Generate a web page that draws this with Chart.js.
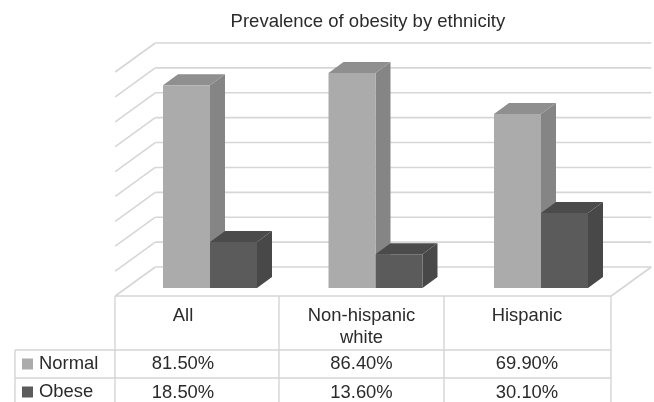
<!DOCTYPE html>
<html>
<head>
<meta charset="utf-8">
<style>html,body{margin:0;padding:0;background:#fff}canvas{display:block}</style>
<script src="https://cdn.jsdelivr.net/npm/chart.js@4/dist/chart.umd.min.js"></script>
</head>
<body>
<canvas id="c" width="654" height="402"></canvas>
<script>
const categories = ["All", ["Non-hispanic", "white"], "Hispanic"];
const normalValues = [81.5, 86.4, 69.9];
const obeseValues = [18.5, 13.6, 30.1];
const normalCells = ["81.50%", "86.40%", "69.90%"];
const obeseCells = ["18.50%", "13.60%", "30.10%"];
const titleText = "Prevalence of obesity by ethnicity";

const FONT = '"Liberation Sans", Arial, sans-serif';
const GRID = "#d6d6d6";
const TABLE = "#d4d4d4";
const INK = "#2b2b2b";

// Extrusion depth of the bars and of the floor/wall box, in pixels.
const BAR_DEPTH = { x: 15, y: -11 };
const WALL_DEPTH = { x: 40, y: -29 };
const FLOOR_INSET = { x: 12, y: 8 };

// Column rules and row rules of the data table under the plot.
const columnRules = [115, 279, 444, 611];
const rowRules = [350, 378];
const legendLeft = 15;
const labelShift = [-27, -14, -14];

const faceColors = [
  { top: "#8f8f8f", side: "#858585" },
  { top: "#4b4b4b", side: "#484848" }
];

function line(ctx, x1, y1, x2, y2) {
  ctx.beginPath();
  ctx.moveTo(x1, y1);
  ctx.lineTo(x2, y2);
  ctx.stroke();
}

function poly(ctx, pts, fill) {
  ctx.beginPath();
  pts.forEach((p, i) => (i ? ctx.lineTo(p[0], p[1]) : ctx.moveTo(p[0], p[1])));
  ctx.closePath();
  ctx.fillStyle = fill;
  ctx.fill();
}

const box3d = {
  id: "box3d",
  beforeDatasetsDraw(chart) {
    const { ctx, scales: { x, y } } = chart;
    const frontLeft = x.left - FLOOR_INSET.x;
    const frontRight = frontLeft + (columnRules[3] - columnRules[0]);
    const shiftY = FLOOR_INSET.y + WALL_DEPTH.y;
    ctx.save();
    ctx.strokeStyle = GRID;
    ctx.lineWidth = 1.6;
    // Horizontal rules on the back wall, with their run down the left wall.
    y.ticks.forEach(t => {
      const py = y.getPixelForValue(t.value) + shiftY;
      line(ctx, frontLeft + WALL_DEPTH.x, py, frontRight + WALL_DEPTH.x, py);
      line(ctx, frontLeft, py - WALL_DEPTH.y, frontLeft + WALL_DEPTH.x, py);
    });
    // Floor edge on the right-hand side.
    const floorBack = y.getPixelForValue(0) + shiftY;
    line(ctx, frontRight, floorBack - WALL_DEPTH.y, frontRight + WALL_DEPTH.x, floorBack);
    ctx.restore();

    // Side and top faces of every bar, Normal first so Obese sits in front.
    chart.data.datasets.forEach((ds, di) => {
      chart.getDatasetMeta(di).data.forEach(bar => {
        const l = bar.x - bar.width / 2, r = bar.x + bar.width / 2, t = bar.y, b = bar.base;
        const dx = BAR_DEPTH.x, dy = BAR_DEPTH.y;
        poly(ctx, [[r, t], [r + dx, t + dy], [r + dx, b + dy], [r, b]], faceColors[di].side);
        poly(ctx, [[l, t], [l + dx, t + dy], [r + dx, t + dy], [r, t]], faceColors[di].top);
      });
    });
  },
  afterDraw(chart) {
    const { ctx, scales: { x, y } } = chart;
    const floorFront = y.getPixelForValue(0) + FLOOR_INSET.y;
    const bottom = chart.height;
    ctx.save();
    ctx.strokeStyle = TABLE;
    ctx.lineWidth = 1.4;
    line(ctx, columnRules[0], floorFront, columnRules[3], floorFront);
    columnRules.forEach(cx => line(ctx, cx, floorFront, cx, bottom));
    line(ctx, legendLeft, rowRules[0], columnRules[3], rowRules[0]);
    line(ctx, legendLeft, rowRules[1], columnRules[3], rowRules[1]);
    line(ctx, legendLeft, rowRules[0], legendLeft, bottom);

    ctx.fillStyle = INK;
    ctx.font = "18.4px " + FONT;
    ctx.textAlign = "center";
    ctx.textBaseline = "middle";
    categories.forEach((label, i) => {
      const cx = x.getPixelForValue(i) + labelShift[i];
      const lines = Array.isArray(label) ? label : [label];
      lines.forEach((s, k) => ctx.fillText(s, cx, floorFront + 20 + k * 22));
      ctx.fillText(normalCells[i], cx, rowRules[0] + 14);
      ctx.fillText(obeseCells[i], cx, rowRules[1] + 15);
    });

    // Legend keys in the first column of the table.
    ctx.textAlign = "left";
    chart.data.datasets.forEach((ds, di) => {
      const top = rowRules[di];
      ctx.fillStyle = ds.backgroundColor;
      ctx.fillRect(legendLeft + 7, top + 8.5, 11, 11);
      ctx.fillStyle = INK;
      ctx.fillText(ds.label, legendLeft + 24, top + 13.5);
    });
    ctx.restore();
  }
};

new Chart(document.getElementById("c"), {
  type: "bar",
  data: {
    labels: categories,
    datasets: [
      { label: "Normal", data: normalValues, backgroundColor: "#ababab", borderWidth: 0 },
      { label: "Obese", data: obeseValues, backgroundColor: "#5b5b5b", borderWidth: 0 }
    ]
  },
  plugins: [box3d],
  options: {
    responsive: false,
    animation: false,
    events: [],
    layout: { padding: { left: 112, right: 30.25, top: 0, bottom: 0 } },
    datasets: { bar: { categoryPercentage: 0.568, barPercentage: 1 } },
    plugins: {
      legend: { display: false },
      tooltip: { enabled: false },
      title: {
        display: true,
        text: titleText,
        color: INK,
        font: { family: FONT, size: 18.5, weight: "normal" },
        padding: { top: 11, bottom: 30.8 }
      }
    },
    scales: {
      x: {
        grid: { display: false },
        border: { display: false },
        ticks: { display: false },
        afterFit(s) { s.height = 114; }
      },
      y: {
        min: 0,
        max: 90,
        ticks: { display: false, stepSize: 10 },
        grid: { display: false },
        border: { display: false },
        afterFit(s) { s.width = 15.25; }
      }
    }
  }
});
</script>
</body>
</html>
